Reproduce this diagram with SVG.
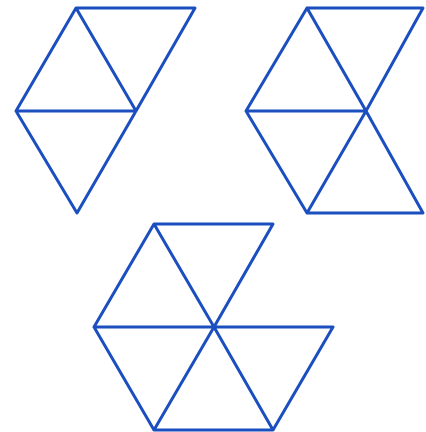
<svg xmlns="http://www.w3.org/2000/svg" width="426" height="432" viewBox="0 0 426 432">
<style>
.e{fill:none;stroke:#1b4fc0;stroke-width:3;stroke-linejoin:round;stroke-linecap:round}
</style>
<rect width="426" height="432" fill="#ffffff"/>
<g id="figure1">
<path class="e" d="M76,8 L195,8 L136,111 L77,213 L16,111 Z M76,8 L136,111 M16,111 L136,111"/>
</g>
<g id="figure2">
<path class="e" d="M307,8 L423,8 L366,111 L423,213 L307,213 L366,111 M307,8 L366,111 L246,111 Z M246,111 L307,213"/>
</g>
<g id="figure3">
<path class="e" d="M154,224 L273,224 L214,327 L154,224 L94,327 L154,430 L273,430 L333,327 L214,327 L94,327 M214,327 L154,430 M214,327 L273,430"/>
</g>
</svg>
